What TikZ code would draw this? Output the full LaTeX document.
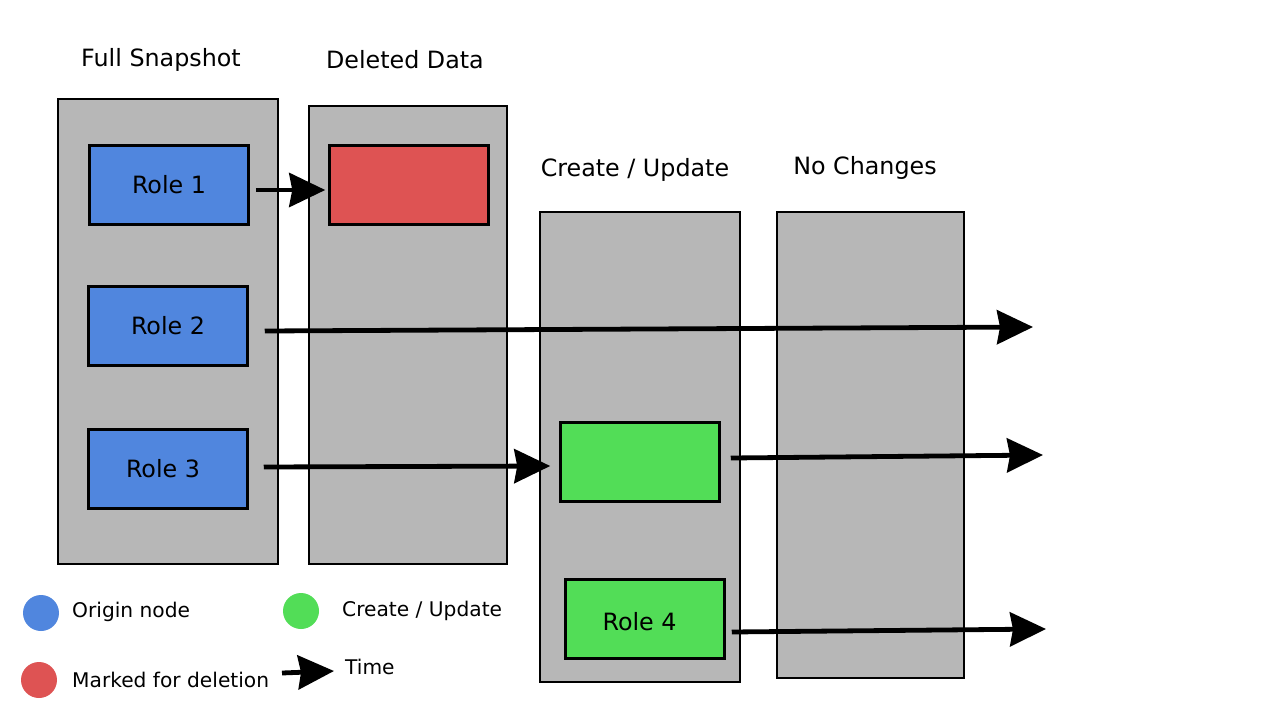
\documentclass[tikz,border=0pt]{standalone}
\usepackage{fontspec}
\setmainfont{DejaVu Sans}
\usetikzlibrary{arrows.meta}
\definecolor{colgray}{HTML}{B7B7B7}
\definecolor{roleblue}{HTML}{5086DE}
\definecolor{rolered}{HTML}{DE5353}
\definecolor{rolegreen}{HTML}{52DD57}
\tikzset{
  colbox/.style={draw=black, line width=1.5pt, fill=colgray, inner sep=0pt},
  rolebox/.style={draw=black, line width=3pt, inner sep=0pt, minimum width=158.5pt, minimum height=78.5pt, font=\fontsize{23.8}{27}\selectfont},
  title/.style={font=\fontsize{23.8}{27}\selectfont, inner sep=0pt},
  legtext/.style={font=\fontsize{20.2}{24}\selectfont, inner sep=0pt, anchor=west},
  dot/.style={circle, inner sep=0pt, minimum size=36pt},
  timearr/.style={line width=4.8pt, -{Stealth[length=36pt,width=34pt,inset=3pt]}},
}
\begin{document}
\begin{tikzpicture}[x=1pt,y=-1pt]
\fill[white] (0,0) rectangle (1280,720);
\useasboundingbox (0,0) rectangle (1280,720);
% columns
\node[colbox, minimum width=220pt, minimum height=465pt] (c1) at (168,331.5) {};
\node[colbox, minimum width=198pt, minimum height=458pt] (c2) at (408,335) {};
\node[colbox, minimum width=200pt, minimum height=470pt] (c3) at (640,447) {};
\node[colbox, minimum width=187pt, minimum height=466pt] (c4) at (870.5,445) {};
% titles
\node[title] (t1) at (161,60) {Full Snapshot};
\node[title] (t2) at (405,60) {Deleted Data};
\node[title] (t3) at (635,170) {Create / Update};
\node[title] (t4) at (865,168) {No Changes};
% role boxes
\node[rolebox, fill=roleblue] (r1) at (169,185) {Role 1};
\node[rolebox, fill=rolered] (del) at (409,185) {};
\node[rolebox, fill=roleblue] (r2) at (168,326) {Role 2};
\node[rolebox, fill=roleblue] (r3) at (168,469) {};
\node[title] (r3t) at (163,469) {Role 3};
\node[rolebox, fill=rolegreen] (g1) at (640,462) {};
\node[rolebox, fill=rolegreen] (r4) at (645,619) {};
\node[title] (r4t) at (639.5,622) {Role 4};
% free ends
\coordinate (e2) at (1033,327);
\coordinate (e3) at (1043,455);
\coordinate (e4) at (1046,629);
% arrows
\draw[timearr] ([xshift=6pt,yshift=-5pt]r1.east) -- ([xshift=-3pt,yshift=-5pt]del.west);
\draw[timearr] ([xshift=16pt,yshift=-5pt]r2.east) -- (e2);
\draw[timearr] ([xshift=15pt,yshift=2pt]r3.east) -- ([xshift=-9pt,yshift=-4pt]g1.west);
\draw[timearr] ([xshift=10pt,yshift=4pt]g1.east) -- (e3);
\draw[timearr] ([xshift=6pt,yshift=-13pt]r4.east) -- (e4);
% legend
\node[dot, fill=roleblue] (lb) at (41,613) {};
\node[dot, fill=rolered] (lr) at (39,680) {};
\node[dot, fill=rolegreen] (lg) at (301,611) {};
\node[legtext] (lbt) at (72,612) {Origin node};
\node[legtext] (lrt) at (72,680) {Marked for deletion};
\node[legtext] (lgt) at (342,611) {Create / Update};
\node[legtext] (ltt) at (345,667) {Time};
\coordinate (la) at (282,673);
\coordinate (lae) at (334,671);
\draw[timearr] (la) -- (lae);
\end{tikzpicture}
\end{document}
